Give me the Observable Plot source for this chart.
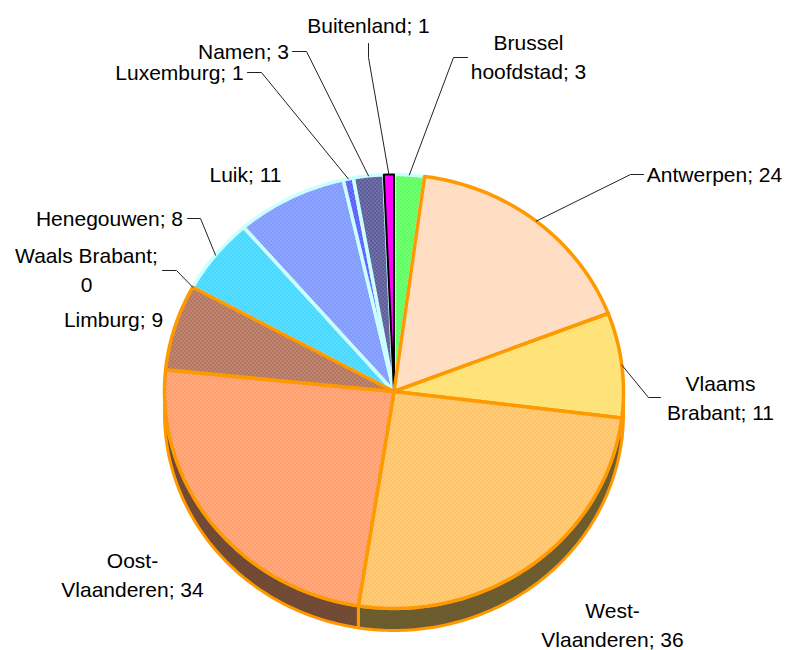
<!DOCTYPE html>
<html>
<head>
<meta charset="utf-8">
<script src="https://cdn.jsdelivr.net/npm/d3@7"></script>
<script src="https://cdn.jsdelivr.net/npm/@observablehq/plot@0.6"></script>
<style>
html,body{margin:0;padding:0;background:#fff}
svg{display:block}
</style>
</head>
<body>
<div id="chart"></div>
<script>
const names = ["Brussel hoofdstad","Antwerpen","Vlaams Brabant","West-Vlaanderen","Oost-Vlaanderen","Limburg","Waals Brabant","Henegouwen","Luik","Luxemburg","Namen","Buitenland"];
const values = [3,24,11,36,34,9,0,8,11,1,3,1];
const labelTexts = ["Brussel\nhoofdstad; 3","Antwerpen; 24","Vlaams\nBrabant; 11","West-\nVlaanderen; 36","Oost-\nVlaanderen; 34","Limburg; 9","Waals Brabant;\n0","Henegouwen; 8","Luik; 11","Luxemburg; 1","Namen; 3","Buitenland; 1"];
const fillColors = ["#44FF44","#FFD6B4","#FFDC58","#FFBA4C","#FF8E54","#A85E44","#A85E44","#26D2FF","#6A88FF","#4040FF","#40408A","#FF00FF"];
const wallColors = ["#746232","#746232","#746232","#746232","#7A5038"];
const strokeColors = ["#CCFFFF","#FF9900","#FF9900","#FF9900","#FF9900","#FF9900","#FF9900","#CCFFFF","#CCFFFF","#CCFFFF","#CCFFFF","#000000"];
const drawOrder = [0,7,8,9,10,11,1,2,3,4,5];
const labelX = [528,714,720,612,132,113,86,109,245,179,243,368];
const labelY = [55,172,396,623,573,317,268,216,172,70,49,23];
const elbowX = [[453,467],[630,643],[648,660],[],[],[],[176,162],[200,187],[],[261,247],[306,292],[368,368]];
const elbowY = [[57,57],[174,174],[397,397],[],[],[],[270,270],[218,218],[],[72,72],[51,51],[57,43]];

const cx = 393.5, cy = 391, rx = 229.5, ry = 217, depth = 22, stepDeg = 1;
const total = d3.sum(values);
const toAngle = v => v / total * 2 * Math.PI;
let cum = 0;
const slices = values.map((v,i) => { const s = {i, a0: toAngle(cum), a1: toAngle(cum + v)}; cum += v; return s; });
const px = (a, off = 0) => ({x: cx + rx * Math.sin(a), y: cy - ry * Math.cos(a) + off});
const arc = (a0, a1, off = 0) => {
  const n = Math.max(1, Math.ceil((a1 - a0) * 180 / Math.PI / stepDeg));
  return d3.range(n + 1).map(k => px(a0 + (a1 - a0) * k / n, off));
};
const slicePts = s => [{x: cx, y: cy}, ...arc(s.a0, s.a1), {x: cx, y: cy}];

const wallMarks = slices.filter(s => s.a1 > Math.PI / 2 && s.a0 < 1.5 * Math.PI).map(s => {
  const a0 = Math.max(s.a0, Math.PI / 2), a1 = Math.min(s.a1, 1.5 * Math.PI);
  const top = arc(a0, a1), bot = arc(a0, a1, depth).reverse();
  return Plot.line([...top, ...bot, top[0]], {x: "x", y: "y", fill: `url(#w${s.i})`, stroke: "#FF9900", strokeWidth: 3});
});
const sliceMarks = drawOrder.map(i => Plot.line(slicePts(slices[i]), {
  x: "x", y: "y", fill: `url(#p${i})`, stroke: strokeColors[i], strokeWidth: i === 11 ? 2 : 3.5
}));
const leaderMarks = slices.filter(s => elbowX[s.i].length).map(s => {
  const mid = px((s.a0 + s.a1) / 2);
  return Plot.line([mid, ...elbowX[s.i].map((x, k) => ({x, y: elbowY[s.i][k]}))], {x: "x", y: "y", stroke: "#222", strokeWidth: 1});
});

const labels = labelTexts.map((t, i) => ({t, x: labelX[i], y: labelY[i]}));
const plot = Plot.plot({
  width: 785, height: 650, margin: 0,
  x: {domain: [0, 785], range: [0, 785], axis: null},
  y: {domain: [0, 650], range: [0, 650], axis: null},
  marks: [
    ...wallMarks,
    ...sliceMarks,
    ...leaderMarks,
    Plot.text(labels, {x: "x", y: "y", text: "t", fontSize: 21, lineHeight: 1.35, fill: "#000", textAnchor: "middle", lineAnchor: "middle"})
  ],
  style: {fontFamily: "'Liberation Sans', Arial, sans-serif", background: "#fff"}
});

const ns = "http://www.w3.org/2000/svg";
const defs = document.createElementNS(ns, "defs");
const addPattern = (id, color, dot, op) => {
  const p = document.createElementNS(ns, "pattern");
  p.setAttribute("id", id);
  p.setAttribute("patternUnits", "userSpaceOnUse");
  p.setAttribute("width", 4); p.setAttribute("height", 4);
  const r = (x, y, w, h, f, o) => {
    const e = document.createElementNS(ns, "rect");
    e.setAttribute("x", x); e.setAttribute("y", y); e.setAttribute("width", w); e.setAttribute("height", h);
    e.setAttribute("fill", f); e.setAttribute("fill-opacity", o); e.setAttribute("shape-rendering", "crispEdges");
    p.appendChild(e);
  };
  r(0, 0, 4, 4, color, 1);
  r(0, 0, 1, 1, dot, op); r(2, 2, 1, 1, dot, op); r(2, 0, 1, 1, dot, op * 0.6); r(0, 2, 1, 1, dot, op * 0.6);
  defs.appendChild(p);
};
fillColors.forEach((c, i) => addPattern("p" + i, c, i === 11 ? "#FF00FF" : "#FFFFFF", 1));
wallColors.forEach((c, i) => addPattern("w" + i, c, "#000000", 0.35));
plot.insertBefore(defs, plot.firstChild);
document.getElementById("chart").appendChild(plot);
</script>
</body>
</html>
